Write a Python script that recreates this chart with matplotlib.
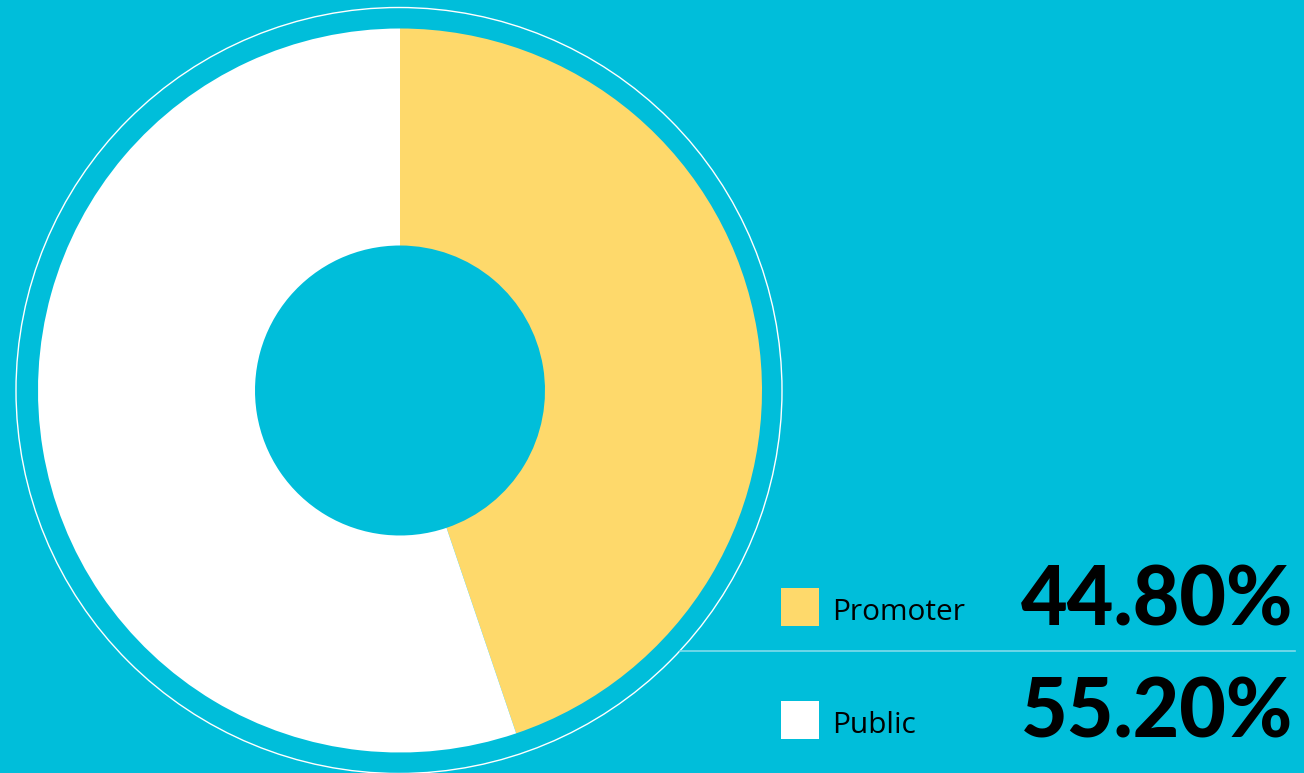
import matplotlib.pyplot as plt
from matplotlib.patches import Circle, Rectangle

# Shareholding split
labels = ['Promoter', 'Public']
shares = [44.80, 55.20]
colors = ['#FED96B', '#FFFFFF']

bg = '#00BEDA'

fig = plt.figure(figsize=(13.04, 7.73), dpi=100, facecolor=bg)
ax = fig.add_axes([0, 0, 1, 1])
ax.set_facecolor(bg)

cx, cy = 400, 390.5
r_out, r_in = 362, 145

# Thin outer ring
ax.add_patch(Circle((cx - 1, cy), 383, facecolor='none', edgecolor='white', lw=1.0, zorder=1))

# Donut (y axis is inverted below, so counterclock=True gives clockwise on screen)
ax.pie(shares, colors=colors, startangle=-90, counterclock=True,
       center=(cx, cy), radius=r_out, frame=True,
       wedgeprops=dict(width=r_out - r_in, linewidth=0))
ax.set_xlim(0, 1304)
ax.set_ylim(773, 0)
ax.set_aspect('equal')
ax.axis('off')

# Separator line in legend
ax.plot([680, 1295], [651, 651], color='#80DCEC', lw=1.2, zorder=1)

# Legend rows
rows_y = [607, 720]
for lab, val, col, y in zip(labels, shares, colors, rows_y):
    ax.add_patch(Rectangle((781, y - 19), 38, 38, facecolor=col, edgecolor='none', zorder=3))
    ax.text(832, y + 13, lab, fontsize=21.5, family='Open Sans', color='black',
            ha='left', va='baseline', zorder=3)
    ax.text(1293, y + 18, f'{val:.2f}%', fontsize=58, family='Lato', fontweight='black',
            color='black', ha='right', va='baseline', zorder=3)

fig.savefig('out.png', dpi=100, facecolor=bg)
